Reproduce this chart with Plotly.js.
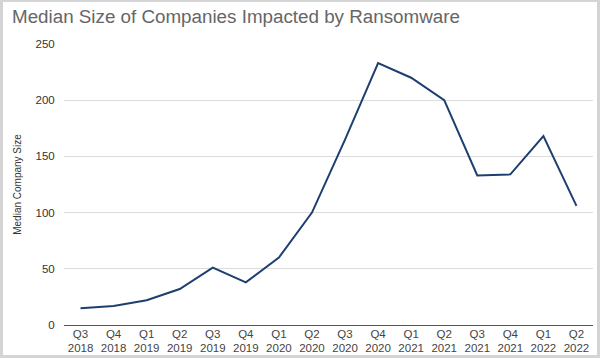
<!DOCTYPE html>
<html><head><meta charset="utf-8">
<script src="https://cdn.plot.ly/plotly-3.0.1.min.js"></script>
<style>
html,body{margin:0;padding:0;background:#fff;}
#frame{position:absolute;left:0;top:0;width:600px;height:358px;box-sizing:border-box;border:3px solid #d4d4d4;border-top-width:2px;}
#chart{position:absolute;left:0;top:0;width:600px;height:358px;}
</style></head>
<body>
<div id="chart"></div>
<div id="frame"></div>
<script>
const quarters = ["Q3","Q4","Q1","Q2","Q3","Q4","Q1","Q2","Q3","Q4","Q1","Q2","Q3","Q4","Q1","Q2"];
const years = ["2018","2018","2019","2019","2019","2019","2020","2020","2020","2020","2021","2021","2021","2021","2022","2022"];
const medianSize = [15,17,22,32,51,38,60,100,165,233,220,200,133,134,168,106];
const categories = quarters.map((q,i)=>q+"<br>"+years[i]);
const yTicks = [0,50,100,150,200,250];

Plotly.newPlot("chart",[{
  x: categories, y: medianSize, type:"scatter", mode:"lines",
  line:{color:"#1d3f70", width:2}, hoverinfo:"none"
}],{
  width:600,height:358,
  margin:{l:64,r:7,t:44,b:33},
  paper_bgcolor:"#fff",plot_bgcolor:"#fff",
  font:{family:"Liberation Sans, Arial, sans-serif",color:"#333"},
  title:{text:"Median Size of Companies Impacted by Ransomware",x:0.02,xanchor:"left",y:0.955,yanchor:"middle",font:{size:18.8,color:"#666"}},
  xaxis:{type:"category",range:[-0.5,15.5],showgrid:false,zeroline:false,showline:false,ticks:"",tickfont:{size:11.5,color:"#444"},ticklen:0},
  yaxis:{range:[0,250],tickvals:yTicks,showgrid:true,gridcolor:"#dcdcdc",gridwidth:1,zeroline:true,zerolinecolor:"#555",zerolinewidth:1,
    tickfont:{size:11.5,color:"#333"},ticklen:6,tickcolor:"rgba(0,0,0,0)",ticks:"outside",
    title:{text:"Median Company Size",font:{size:10,color:"#333"},standoff:12}},
  showlegend:false
},{displayModeBar:false,staticPlot:true});
</script>
</body></html>
